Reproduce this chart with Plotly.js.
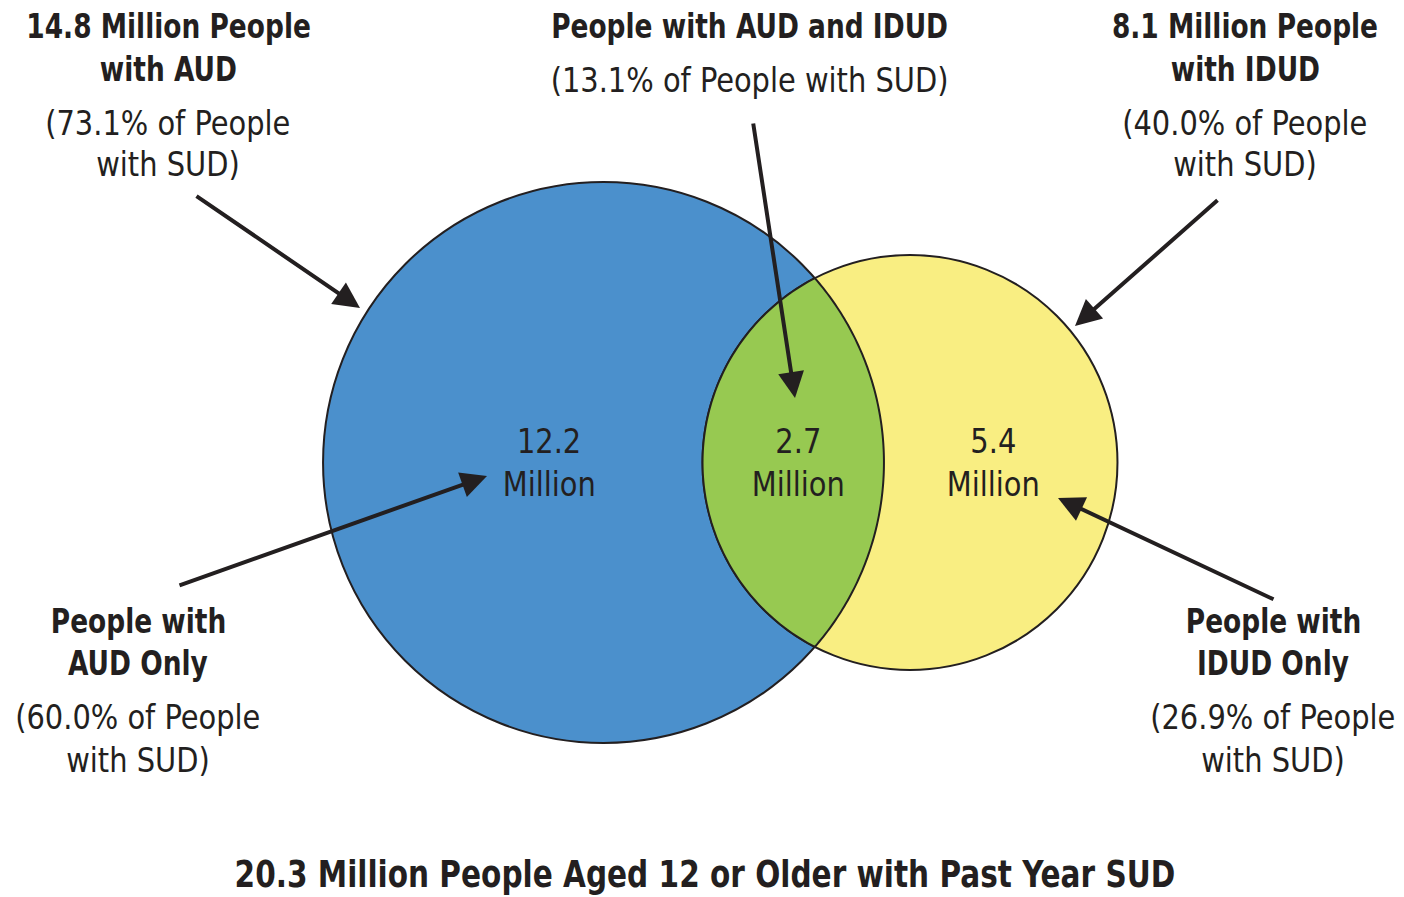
<!DOCTYPE html>
<html>
<head>
<meta charset="utf-8">
<script src="https://cdn.plot.ly/plotly-3.0.1.min.js"></script>
<style>html,body{margin:0;padding:0;background:#fff;}#chart{width:1404px;height:897px;}</style>
</head>
<body>
<div id="chart"></div>
<script>
// ---- Data ----
const setNames = ["AUD", "IDUD"];
const setMillions = [14.8, 8.1];
const setPctOfSUD = [73.1, 40.0];
const regionNames = ["AUD Only", "AUD and IDUD", "IDUD Only"];
const regionMillions = [12.2, 2.7, 5.4];
const regionPctOfSUD = [60.0, 13.1, 26.9];
const totalSUDMillions = 20.3;

// ---- Layout / style constants ----
const W = 1404, H = 897;
const FONT = "'Liberation Sans Narrow', 'DejaVu Sans Condensed', 'Arial Narrow', sans-serif";
const INK = "#231f20";
const COLORS = { a: "#4b90cc", b: "#f9ee82", ab: "#97c951" };
const PX_PER_SQRT_MILLION = 72.9;      // circle area proportional to set size
const CY = 462.5;
const CX_A = 603.5, CX_B = 910;
const SQUEEZE_BOLD = 0.865, SQUEEZE_REG = 0.945;

const rA = PX_PER_SQRT_MILLION * Math.sqrt(setMillions[0]);
const rB = PX_PER_SQRT_MILLION * Math.sqrt(setMillions[1]);

// lens between the circles
const d = CX_B - CX_A;
const a = (d * d + rA * rA - rB * rB) / (2 * d);
const h = Math.sqrt(rA * rA - a * a);
const thA = Math.atan2(h, a);
const thB = Math.atan2(h, d - a);
const N = 120;
let path = "";
for (let i = 0; i <= N; i++) {
  const t = -thA + (2 * thA) * i / N;
  const x = CX_A + rA * Math.cos(t), y = CY + rA * Math.sin(t);
  path += (i === 0 ? "M" : "L") + x.toFixed(2) + "," + y.toFixed(2);
}
for (let i = 0; i <= N; i++) {
  const t = (Math.PI - thB) + (2 * thB) * i / N;
  const x = CX_B + rB * Math.cos(t), y = CY + rB * Math.sin(t);
  path += "L" + x.toFixed(2) + "," + y.toFixed(2);
}
path += "Z";

const shapes = [
  { type: "circle", xref: "x", yref: "y", x0: CX_A - rA, x1: CX_A + rA, y0: CY - rA, y1: CY + rA,
    fillcolor: COLORS.a, line: { color: INK, width: 2 }, layer: "above" },
  { type: "circle", xref: "x", yref: "y", x0: CX_B - rB, x1: CX_B + rB, y0: CY - rB, y1: CY + rB,
    fillcolor: COLORS.b, line: { color: INK, width: 2 }, layer: "above" },
  { type: "path", xref: "x", yref: "y", path: path,
    fillcolor: COLORS.ab, line: { color: INK, width: 2 }, layer: "above" }
];

const annotations = [];
function txt(x, y, text, size, bold) {
  annotations.push({ xref: "x", yref: "y", x: x, y: y, text: text, showarrow: false,
    xanchor: "center", yanchor: "middle",
    font: { family: FONT, size: size, color: INK, weight: bold ? 700 : 400 } });
}
function arrow(tx, ty, hx, hy) {
  annotations.push({ xref: "x", yref: "y", axref: "x", ayref: "y", x: hx, y: hy, ax: tx, ay: ty,
    text: "", showarrow: true, arrowhead: 2, arrowsize: 1.3, arrowwidth: 4, arrowcolor: INK,
    standoff: 0, startstandoff: 0 });
}
const f1 = v => v.toFixed(1);

// top-left: AUD total
txt(168, 26, f1(setMillions[0]) + " Million People", 34, true);
txt(168, 69, "with " + setNames[0], 34, true);
txt(168, 123, "(" + f1(setPctOfSUD[0]) + "% of People", 34, false);
txt(168, 164, "with SUD)", 34, false);
// top-center: overlap
txt(749, 26, "People with " + setNames[0] + " and " + setNames[1], 34, true);
txt(749, 80, "(" + f1(regionPctOfSUD[1]) + "% of People with SUD)", 34, false);
// top-right: IDUD total
txt(1245, 26, f1(setMillions[1]) + " Million People", 34, true);
txt(1245, 69, "with " + setNames[1], 34, true);
txt(1245, 123, "(" + f1(setPctOfSUD[1]) + "% of People", 34, false);
txt(1245, 164, "with SUD)", 34, false);
// bottom-left: AUD only
txt(138, 621, "People with", 34, true);
txt(138, 663, regionNames[0], 34, true);
txt(138, 717, "(" + f1(regionPctOfSUD[0]) + "% of People", 34, false);
txt(138, 760, "with SUD)", 34, false);
// bottom-right: IDUD only
txt(1273, 621, "People with", 34, true);
txt(1273, 663, regionNames[2], 34, true);
txt(1273, 717, "(" + f1(regionPctOfSUD[2]) + "% of People", 34, false);
txt(1273, 760, "with SUD)", 34, false);
// inside circles
const regionX = [549, 798, 993];
regionMillions.forEach((v, i) => {
  txt(regionX[i], 441, f1(v), 34, false);
  txt(regionX[i], 484, "Million", 34, false);
});
// bottom title
txt(705, 874, f1(totalSUDMillions) + " Million People Aged 12 or Older with Past Year SUD", 38, true);

// arrows
arrow(195, 195, 360, 308);
arrow(753, 122, 795, 398);
arrow(1219, 199, 1075, 326);
arrow(178, 586, 487, 476);
arrow(1275, 600, 1058, 498);

const layout = {
  width: W, height: H,
  margin: { l: 0, r: 0, t: 0, b: 0, pad: 0 },
  paper_bgcolor: "#ffffff", plot_bgcolor: "#ffffff",
  xaxis: { range: [0, W], visible: false, fixedrange: true },
  yaxis: { range: [H, 0], visible: false, fixedrange: true },
  showlegend: false,
  shapes: shapes,
  annotations: annotations
};
Plotly.newPlot("chart", [], layout, { staticPlot: true, displayModeBar: false }).then(() => {
  // narrow the lettering to mimic the condensed typeface of the original
  document.querySelectorAll("#chart text.annotation-text").forEach(el => {
    const wt = String(el.style.fontWeight || "");
    const bold = wt === "700" || wt === "bold";
    el.style.transformBox = "fill-box";
    el.style.transformOrigin = "center";
    el.style.transform = "scaleX(" + (bold ? SQUEEZE_BOLD : SQUEEZE_REG) + ")";
  });
});
</script>
</body>
</html>
